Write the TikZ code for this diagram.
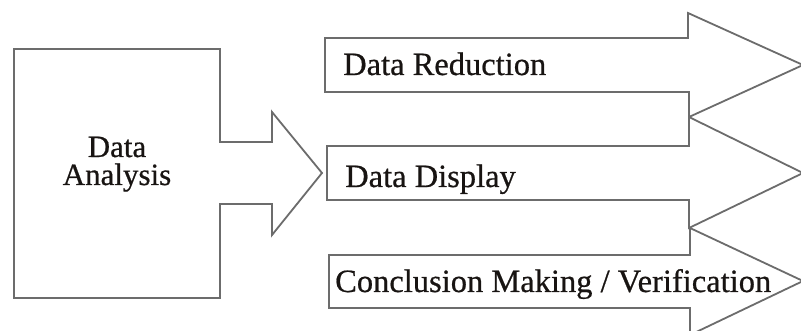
\documentclass[tikz,border=0pt]{standalone}
\usepackage{fontspec}
\setmainfont[FakeBold=0.6]{Liberation Serif}
\definecolor{edgegray}{RGB}{108,108,108}
\definecolor{inkdark}{RGB}{24,20,18}
\tikzset{
  outline/.style={draw=edgegray, line width=1.8pt, line join=miter, fill=white},
  label/.style={text=inkdark, inner sep=0pt, font=\fontsize{32.5}{28}\selectfont},
}
\begin{document}
\begin{tikzpicture}[x=1pt, y=-1pt]
  \useasboundingbox (0,0) rectangle (801,331);

  % Source block with its outgoing arrow
  \draw[outline] (14,49) -- (220,49) -- (220,142) -- (272,142) -- (272,112)
    -- (322,173) -- (272,235) -- (272,204) -- (220,204) -- (220,298)
    -- (14,298) -- cycle;

  % Three stage arrows, top to bottom
  \draw[outline] (325,38) -- (688,38) -- (688,13) -- (803,65) -- (689,117)
    -- (689,92) -- (325,92) -- cycle;
  \draw[outline] (327,146) -- (689,146) -- (689,117) -- (803,173) -- (689,228)
    -- (689,200) -- (327,200) -- cycle;
  \draw[outline] (329,255) -- (690,255) -- (690,228) -- (803,281) -- (690,335)
    -- (690,308) -- (329,308) -- cycle;

  % Labels (the two-line label sits on the baseline of its last line)
  \node[label, font=\fontsize{31}{28}\selectfont, align=center, anchor=base]
    (analysis) at (117,185) {Data\\Analysis};
  \node[label, anchor=base west] (reduction) at (343,75) {Data Reduction};
  \node[label, anchor=base west] (display) at (345,187) {Data Display};
  \node[label, anchor=base west] (conclusion) at (335,292) {Conclusion Making / Verification};
\end{tikzpicture}
\end{document}
